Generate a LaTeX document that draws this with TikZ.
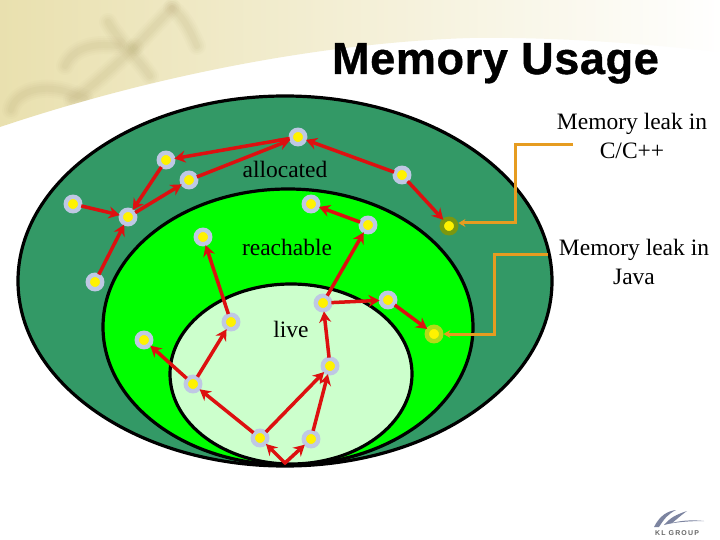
\documentclass[tikz,border=0pt]{standalone}
\usepackage{fontspec}
\setmainfont{Liberation Serif}
\newfontfamily\titlefont[BoldFeatures={FakeBold=0.9},LetterSpace=1.5]{Liberation Sans}
\newfontfamily\logofont{Liberation Sans}
\usetikzlibrary{arrows.meta}
\definecolor{outerg}{HTML}{339966}
\definecolor{midg}{HTML}{00FF00}
\definecolor{innerg}{HTML}{CCFFCC}
\definecolor{ringc}{HTML}{BFC8E4}
\definecolor{arrowc}{HTML}{DD1010}
\definecolor{leakc}{HTML}{E69C20}
\definecolor{bannerc}{HTML}{E9E0AE}
\definecolor{bannerm}{HTML}{FAEDC0}
\definecolor{leafc}{HTML}{AFA26C}
\definecolor{leaflight}{HTML}{EFE7B8}
\definecolor{logoc}{HTML}{7C84A0}
\tikzset{
  blob/.style={draw=black,line width=3.2pt},
  obj/.style={circle,fill=yellow,draw=ringc,line width=4.4pt,minimum size=14.5pt,inner sep=0pt},
  leakobj/.style={circle,fill=yellow,draw=#1,line width=4.4pt,minimum size=14.5pt,inner sep=0pt},
  refer/.style={draw=arrowc,line width=3.5pt,-{Stealth[length=11pt,width=12pt]},shorten >=-1pt,shorten <=-1pt},
  pointer/.style={draw=leakc,line width=3pt,-{Stealth[length=7pt,width=8pt]}},
  lab/.style={font=\fontsize{23.5}{28}\selectfont,text=black,align=center,inner sep=0pt},
  leaf/.style={draw=leafc,line cap=round}
}
\begin{document}
\begin{tikzpicture}[x=1pt,y=-1pt]
\useasboundingbox (0,0) rectangle (720,540);
% banner
\fill[white] (0,0) rectangle (720,540);
\begin{scope}
\clip (0,0) -- (720,0) -- (720,52) .. controls (620,41) and (540,37) .. (470,38)
  .. controls (340,42) and (170,70) .. (0,127) -- cycle;
\shade[left color=bannerc,middle color=bannerm,right color=white,shading angle=90] (-5,-5) rectangle (725,130);
\foreach \w/\o in {18/0.04,14/0.05,10/0.06,6/0.07}{
  \draw[leaf,line width=\w pt,opacity=\o] (11,110) .. controls (14,95) and (35,85) .. (60,90) .. controls (70,92) and (78,96) .. (85,98);
  \draw[leaf,line width=\w pt,opacity=\o] (72,100) .. controls (95,85) and (115,65) .. (135,47);
  \draw[leaf,line width=\w pt,opacity=\o] (135,47) -- (172,8);
  \draw[leaf,line width=\w pt,opacity=\o] (108,22) .. controls (118,40) and (135,55) .. (150,76);
  \draw[leaf,line width=\w pt,opacity=\o] (65,66) .. controls (72,50) and (90,42) .. (118,46);
  \draw[leaf,line width=\w pt,opacity=\o] (172,8) .. controls (185,18) and (192,35) .. (197,46);
}
\end{scope}
% regions
\fill[outerg,blob] (285,281) ellipse [x radius=267,y radius=185];
\fill[midg,blob] (288,327) ellipse [x radius=185,y radius=138];
\fill[innerg,blob] (291,374) ellipse [x radius=121,y radius=90];
% title
\node[font=\titlefont\bfseries\fontsize{45}{50}\selectfont,inner sep=0pt,anchor=base] (title) at (495.5,74) {Memory Usage};
% labels
\node[lab] (lalloc) at (285,169) {allocated};
\node[lab] (lreach) at (287,247) {reachable};
\node[lab] (llive) at (291,329) {live};
\node[lab] (lcpp) at (632,136) {Memory leak in\\[1pt]C/C++};
\node[lab] (ljava) at (634,262) {Memory leak in\\[1pt]Java};
% objects
\foreach \n/\x/\y in {a/298/137,b/166/160,c/189/180,d/73/204,e/128/217,f/95/282,g/402/175,
  h/311/204,i/368/225,j/203/237,k/231/322,l/323/303,m/388/300,n/144/340,o/193/384,p/330/366,q/260/438,r/311/439}
  \node[obj] (\n) at (\x,\y) {};
\node[leakobj=olive!70!green] (leakone) at (449,226) {};
\node[leakobj=yellow!70!green] (leaktwo) at (434,334) {};
\coordinate (tip) at (285,463);
\coordinate (cstart) at (573,145);
\coordinate (cbend) at (515,145);
\coordinate (cbendb) at (515,223);
\coordinate (jstart) at (548,254);
\coordinate (jbend) at (494,254);
\coordinate (jbendb) at (494,334);
% references
\foreach \s/\t in {a/b,c/a,e/c,b/e,d/e,f/e,g/a,g/leakone,i/h,l/i,k/j,o/k,o/n,q/o,q/p,r/p,p/l,l/m,m/leaktwo,tip/q,tip/r}
  \draw[refer] (\s) -- (\t);
% pointers
\draw[pointer] (cstart) -- (cbend) -- (cbendb) -- (leakone.east |- cbendb);
\draw[pointer] (jstart) -- (jbend) -- (jbendb) -- (leaktwo.east);
% logo
\fill[logoc] (654,527) .. controls (660,515) and (668,511) .. (676,510) .. controls (668,514) and (664,519) .. (659,527) -- cycle;
\fill[logoc] (664,525) .. controls (670,518) and (675,515) .. (687,511) .. controls (680,516) and (676,520) .. (672,523) .. controls (682,520) and (695,520) .. (704,521) .. controls (690,521) and (675,522) .. (664,525) -- cycle;
\node[font=\logofont\bfseries\fontsize{7}{8}\selectfont,text=gray!80!black,inner sep=0pt] (logo) at (677,533) {K\,L\, G\,R\,O\,U\,P};
\end{tikzpicture}
\end{document}
